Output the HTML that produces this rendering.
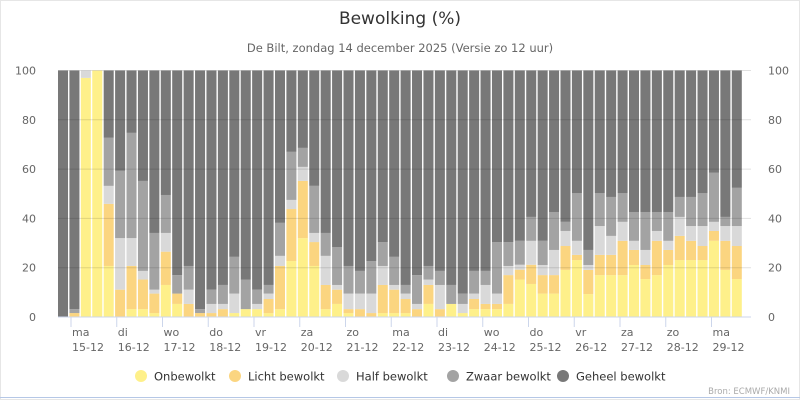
<!DOCTYPE html>
<html><head><meta charset="utf-8"><style>
body{margin:0;background:#fff;}
svg text{font-family:"DejaVu Sans","Liberation Sans",sans-serif;}
</style></head><body>
<svg id="c" width="800" height="400" xmlns="http://www.w3.org/2000/svg">
<rect x="0.5" y="0.5" width="799" height="399" fill="#fff" stroke="#e6e6e6"/>
<line x1="0" y1="397.5" x2="800" y2="397.5" stroke="#b5c7e6" stroke-width="1"/>
<text x="400" y="24" text-anchor="middle" font-size="17" fill="#333">Bewolking (%)</text>
<text x="400" y="52" text-anchor="middle" font-size="11.5" fill="#666">De Bilt, zondag 14 december 2025 (Versie zo 12 uur)</text>
<g id="bars"></g>
<g id="grid"></g>
<g id="axes"></g>
<g id="legend"></g>
<text x="790" y="394" text-anchor="end" font-size="8.5" fill="#aaa">Bron: ECMWF/KNMI</text>
</svg>
<script>
// cumulative tops per category (%), one entry per 6-hour step
const onbewolkt = [0,0,97,100,20.7,0,3.2,3.2,1.6,13,5.3,0,0,0,0,1.6,3.2,3.2,1.6,3.2,22.7,32,20.7,3.2,5.3,1.6,0,0,1.6,1.6,1.6,0,5.3,0,5.3,1.6,3.2,3.2,3.2,5.3,15.2,13.4,9.5,9.5,19.1,23.1,9.3,17,17,17,21.1,15.4,17,21.1,23.1,23.1,23.1,30.9,19.1,15.4];
const licht = [0,1.6,97,100,45.9,11.1,20.7,15.2,9.5,26.5,9.5,5.3,1.6,1.6,3.2,1.6,3.2,3.2,7.3,20.7,43.8,55.2,30.4,13,11.1,3.2,3.2,1.6,13,11.1,7.3,3.2,13,3.2,5.3,1.6,7.3,5.3,5.3,17,19.2,21.2,17,17,28.8,25.2,19.1,25.2,25.2,30.9,27.2,21.1,30.9,27.2,32.9,30.9,28.8,34.9,30.9,28.8];
const half = [0,1.6,100,100,53.2,32,32,18.7,11.1,34.1,9.5,11.1,1.6,5.3,5.3,9.5,3.2,5.3,9.5,24.8,47.5,60.9,34.1,24.8,13,9.5,9.5,9.5,20.7,13,9.5,5.3,15.2,13,5.3,5.3,9.5,13,9.5,20.7,21.2,30.9,21.1,27.2,34.9,30.9,21.1,36.9,32.9,38.6,30.9,27.2,34.9,30.9,40.6,36.9,36.9,38.6,36.9,36.9];
const zwaar = [0,3.2,100,100,72.7,59.3,74.7,55.2,34.1,49.5,17,20.7,3.2,11.1,13,24.4,15.2,11.1,13,38.2,67,68.6,53.2,34.1,28.4,20.7,18.7,22.7,30.4,24.4,13,17,20.7,18.7,13,9.5,18.7,18.7,30.4,30.4,30.9,40.6,30.9,42.6,38.6,50.3,27.2,50.3,48.7,50.3,42.6,42.6,42.6,42.6,48.7,48.7,50.3,58.5,40.6,52.4];
const dayNames = ["ma","di","wo","do","vr","za","zo","ma","di","wo","do","vr","za","zo","ma"];
const dayDates = ["15-12","16-12","17-12","18-12","19-12","20-12","21-12","22-12","23-12","24-12","25-12","26-12","27-12","28-12","29-12"];
const yTicks = [0,20,40,60,80,100];
const seriesNames = ["Onbewolkt","Licht bewolkt","Half bewolkt","Zwaar bewolkt","Geheel bewolkt"];
const colors = ["#fef08a","#fbd580","#d9d9d9","#a3a3a3","#787878"];

const NS="http://www.w3.org/2000/svg";
const X0=58, X1=751, Y0=317, Y100=70.5;
const pitch=11.42;
const y=v=>Y0-(v/100)*(Y0-Y100);
const xb=i=>X0+i*pitch;
function mk(tag,attrs,parent){const e=document.createElementNS(NS,tag);for(const k in attrs)e.setAttribute(k,attrs[k]);parent.appendChild(e);return e;}
const bars=document.getElementById('bars');
for(let i=0;i<onbewolkt.length;i++){
  let prev=0;
  const tops=[onbewolkt[i],Math.max(licht[i],onbewolkt[i]),Math.max(half[i],licht[i]),Math.max(zwaar[i],half[i]),100];
  for(let s=0;s<5;s++){
    const t=Math.max(tops[s],prev);
    if(t>prev){
      const r=mk('rect',{x:xb(i),y:y(t),width:pitch-1.4,height:y(prev)-y(t),fill:colors[s]},bars);
      
      
    }
    prev=t;
  }
}
const grid=document.getElementById('grid');
const axes=document.getElementById('axes');
yTicks.forEach(v=>{
  const l=mk('line',{x1:X0,x2:X1,y1:y(v),y2:y(v),stroke:v===0?'#ccd6eb':'rgba(0,0,0,0.12)','stroke-width':1},grid);
  
  
  const a=mk('text',{x:X0-22,y:y(v)+4,'text-anchor':'end','font-size':11,fill:'#666'},axes);a.textContent=v;
  
  
  const b=mk('text',{x:X1+17,y:y(v)+4,'font-size':11,fill:'#666'},axes);b.textContent=v;
  
  
});
dayNames.forEach((d,k)=>{
  const tx=71+k*45.75;
  const t=mk('line',{x1:tx,x2:tx,y1:Y0,y2:Y0+10,stroke:'#ccd6eb'},axes);
  
  
  const a=mk('text',{x:tx+1,y:336,'font-size':11,fill:'#666'},axes);a.textContent=d;
  
  
  const b=mk('text',{x:tx+1,y:351,'font-size':11,fill:'#666'},axes);b.textContent=dayDates[k];
  
  
});
const legend=document.getElementById('legend');
const lx=[141,235,343,453,563];
seriesNames.forEach((n,s)=>{
  const g=mk('g',{},legend);
  
  
  mk('circle',{cx:lx[s],cy:376,r:6,fill:colors[s]},g);
  const t=mk('text',{x:lx[s]+13,y:380.5,'font-size':11.5,fill:'#333'},g);t.textContent=n;
});
</script>
</body></html>
